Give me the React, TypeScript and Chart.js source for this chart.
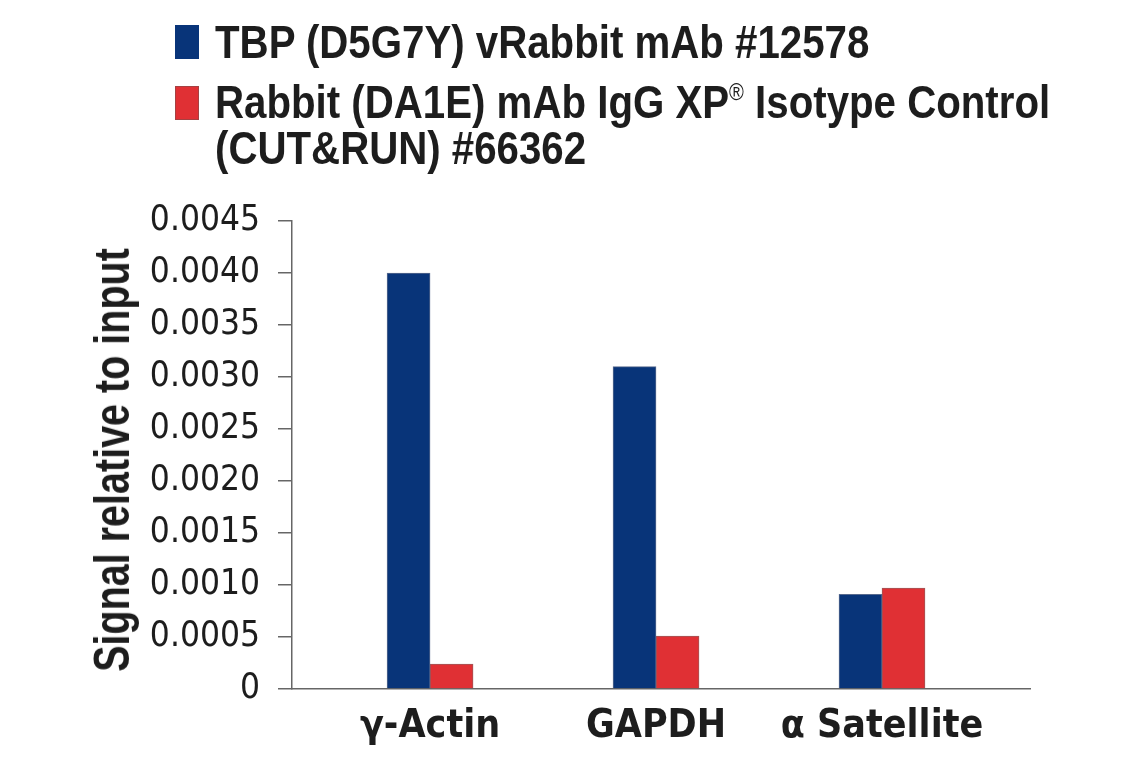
import React, { useEffect, useRef } from "react";
import { Chart, registerables } from "chart.js";

Chart.register(...registerables);

// ---- data ----
const categories = ["γ-Actin", "GAPDH", "α Satellite"];
const tbpValues = [0.0040, 0.0031, 0.00091];
const iggValues = [0.00024, 0.00051, 0.00097];
const legendLinesTBP = ["TBP (D5G7Y) vRabbit mAb #12578"];
const legendLinesIgG = ["Rabbit (DA1E) mAb IgG XP® Isotype Control", "(CUT&RUN) #66362"];
const yTickMin = 0;
const yTickMax = 0.0045;
const yTickStep = 0.0005;
const yTitle = "Signal relative to input";

const BLUE = "#083479";
const RED = "#e03034";
const TEXT = "#1d1d1d";
const AXIS = "#666666";
const CANVAS_FONT = "'DejaVu Sans Condensed', 'Liberation Sans', sans-serif";
const HTML_FONT = "'Liberation Sans', Arial, sans-serif";

function renderSup(text: string) {
  const parts = text.split("®");
  const out: React.ReactNode[] = [];
  parts.forEach((p, i) => {
    out.push(<span key={"t" + i}>{p}</span>);
    if (i < parts.length - 1) {
      out.push(
        <span
          key={"s" + i}
          style={{
            fontSize: "0.5em",
            position: "relative",
            top: "-0.75em",
            lineHeight: 0,
            verticalAlign: "baseline",
            fontWeight: "normal",
          }}
        >
          ®
        </span>
      );
    }
  });
  return out;
}

export default function App() {
  const canvasRef = useRef<HTMLCanvasElement | null>(null);

  useEffect(() => {
    if (!canvasRef.current) return;
    const chart = new Chart(canvasRef.current, {
      type: "bar",
      data: {
        datasets: [
          {
            label: legendLinesTBP.join(" "),
            data: tbpValues.map((v, i) => ({ x: i, y: v })),
            backgroundColor: BLUE,
            borderColor: "rgba(70,90,130,0.9)",
            borderWidth: 1,
            barThickness: 43,
          },
          {
            label: legendLinesIgG.join(" "),
            data: iggValues.map((v, i) => ({ x: i, y: v })),
            backgroundColor: RED,
            borderColor: "rgba(150,70,70,0.9)",
            borderWidth: 1,
            barThickness: 43,
          },
        ],
      },
      options: {
        animation: false,
        responsive: false,
        maintainAspectRatio: false,
        layout: { padding: { left: 80, right: 110, top: 221, bottom: 0 } },
        plugins: {
          legend: { display: false },
          tooltip: { enabled: false },
        },
        scales: {
          x: {
            type: "linear",
            offset: false,
            min: -0.611,
            max: 2.655,
            afterBuildTicks: (s: any) => {
              s.ticks = categories.map((_, i) => ({ value: i }));
            },
            afterFit: (s: any) => {
              s.height = 79;
            },
            ticks: {
              autoSkip: false,
              maxRotation: 0,
              padding: 14,
              color: TEXT,
              font: { family: CANVAS_FONT, size: 39, weight: "bold" },
              callback: (v: any) => categories[Math.round(Number(v))] ?? "",
            },
            grid: { drawOnChartArea: false, drawTicks: false },
            border: { display: true, color: AXIS, width: 1.5 },
          },
          y: {
            min: yTickMin,
            max: yTickMax,
            afterFit: (s: any) => {
              s.width = 212;
            },
            ticks: {
              stepSize: yTickStep,
              padding: 18,
              color: TEXT,
              font: { family: CANVAS_FONT, size: 35 },
              callback: (v: any) => (Number(v) === 0 ? "0" : Number(v).toFixed(4)),
            },
            grid: { drawOnChartArea: false, drawTicks: true, tickLength: 14, color: AXIS, lineWidth: 1.5 },
            border: { display: true, color: AXIS, width: 1.5 },
          },
        },
      },
    } as any);
    return () => chart.destroy();
  }, []);

  const legendText: React.CSSProperties = {
    position: "absolute",
    left: 215,
    fontFamily: HTML_FONT,
    fontWeight: "bold",
    fontSize: 47,
    lineHeight: "47px",
    height: 47,
    color: TEXT,
    whiteSpace: "nowrap",
    transform: "scaleX(0.856)",
    transformOrigin: "0 0",
  };

  return (
    <div style={{ position: "absolute", left: 0, top: 0, width: 1140, height: 768, background: "#fff" }}>
      <canvas ref={canvasRef} width={1140} height={768} style={{ position: "absolute", left: 0, top: 0 }} />
      <div style={{ position: "absolute", left: 175, top: 25, width: 24, height: 34, background: BLUE }} />
      <div style={{ position: "absolute", left: 175, top: 86, width: 24, height: 34, background: RED, boxSizing: "border-box", border: "1px solid rgba(150,70,70,0.8)" }} />
      {legendLinesTBP.map((t, i) => (
        <div key={"a" + i} style={{ ...legendText, top: 18 + i * 46 }}>{renderSup(t)}</div>
      ))}
      {legendLinesIgG.map((t, i) => (
        <div key={"b" + i} style={{ ...legendText, top: 78 + i * 46 }}>{renderSup(t)}</div>
      ))}
      <div
        style={{
          position: "absolute",
          left: 112,
          top: 460,
          width: 0,
          height: 0,
        }}
      >
        <div
          style={{
            position: "absolute",
            left: 0,
            top: 0,
            transform: "translate(-50%, -50%) rotate(-90deg) scaleX(0.79)",
            transformOrigin: "50% 50%",
            fontFamily: HTML_FONT,
            fontWeight: "bold",
            fontSize: 50,
            lineHeight: "50px",
            color: TEXT,
            whiteSpace: "nowrap",
          }}
        >
          {yTitle}
        </div>
      </div>
    </div>
  );
}
